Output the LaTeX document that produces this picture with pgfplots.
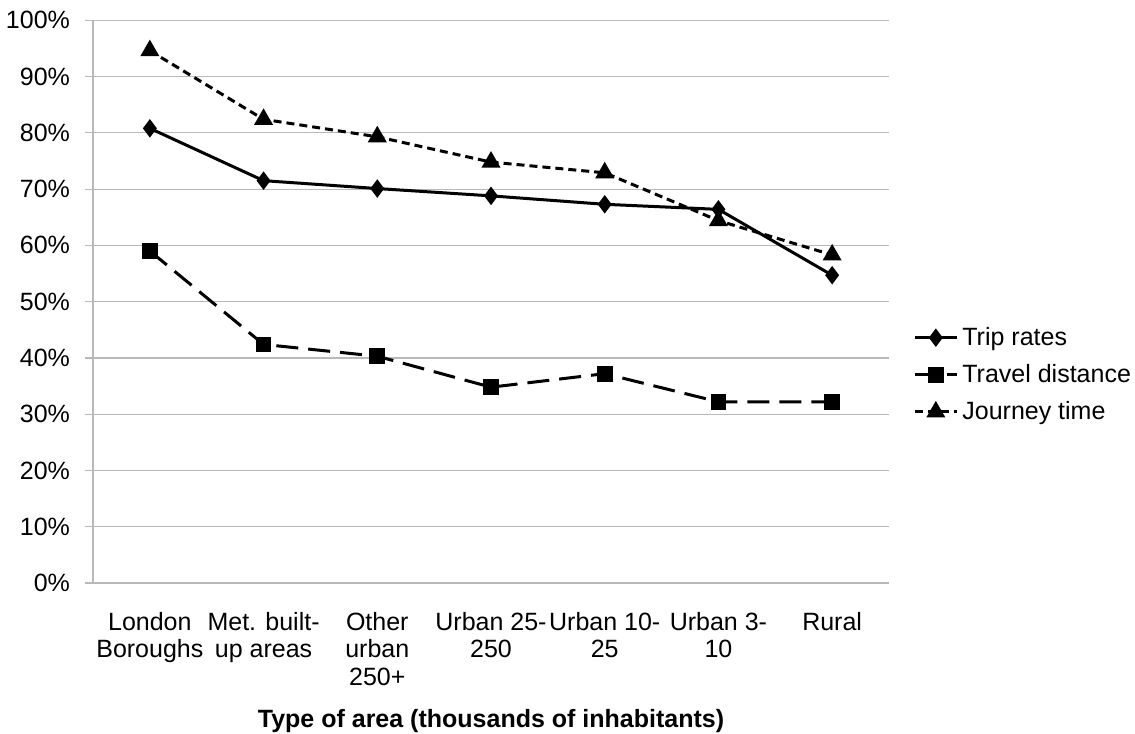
\documentclass[border=0pt]{standalone}
\usepackage{pgfplots}
\pgfplotsset{compat=1.18}
\usepackage{fontspec}
\setmainfont{Liberation Sans}
\usetikzlibrary{calc}

\definecolor{gridgray}{RGB}{185,185,185}

\begin{document}
\begin{tikzpicture}[font=\fontsize{12.5}{13.9}\selectfont]
\begin{axis}[
  scale only axis,
  width=398pt, height=281.35pt,
  xmin=-0.5, xmax=6.5,
  ymin=0, ymax=100,
  xtick={0,...,6},
  xticklabels={{London\\Boroughs},{Met. built-\\up areas},{Other\\urban\\250+},{Urban 25-\\250},{Urban 10-\\25},{Urban 3-\\10},{Rural}},
  xticklabel style={align=center, yshift=-7pt, font=\fontsize{12.5}{13.9}\selectfont},
  major x tick style={draw=none},
  ytick={0,10,...,100},
  yticklabel={\pgfmathprintnumber{\tick}\%},
  yticklabel style={xshift=-4pt, font=\fontsize{12.5}{13.9}\selectfont},
  /pgf/number format/assume math mode=true,
  tick align=outside,
  major tick length=4pt,
  major y tick style={gridgray, line width=0.6pt},
  ymajorgrids,
  grid style={gridgray, line width=0.6pt},
  axis line style={gridgray, line width=0.6pt},
  axis x line*=bottom,
  axis y line*=left,
  xlabel={\textbf{Type of area (thousands of inhabitants)}},
  xlabel style={yshift=-5pt, font=\fontsize{12.5}{13.9}\selectfont},
  legend style={draw=none, fill=none, at={(1.03,0.37)}, anchor=west,
    inner sep=0pt, row sep=4pt, font=\fontsize{12.5}{13.9}\selectfont,
    legend cell align=left},
  legend image code/.code={
    \draw[mark repeat=2, mark phase=2] plot coordinates {(0cm,0cm) (0.37cm,0cm) (0.74cm,0cm)};
  },
]
\coordinate (lo) at (rel axis cs:0,0);
\coordinate (hi) at (rel axis cs:1,1);

% Trip rates
\addplot[black, line width=1.5pt, mark=diamond*, mark size=3.4pt] coordinates {
  (0,80.8) (1,71.5) (2,70.1) (3,68.8) (4,67.3) (5,66.4) (6,54.7)
};
\addlegendentry{Trip rates}

% Travel distance
\addplot[black, line width=1.5pt, dash pattern=on 11pt off 5pt,
  mark=square*, mark size=3.2pt, mark options={solid}] coordinates {
  (0,59.0) (1,42.4) (2,40.3) (3,34.8) (4,37.2) (5,32.2) (6,32.2)
};
\addlegendentry{Travel distance}

% Journey time
\addplot[black, line width=1.5pt, dash pattern=on 4pt off 2.5pt,
  mark=triangle*, mark size=4pt, mark options={solid}] coordinates {
  (0,94.6) (1,82.4) (2,79.3) (3,74.8) (4,72.9) (5,64.4) (6,58.3)
};
\addlegendentry{Journey time}
\end{axis}
\pgfresetboundingbox
\path[use as bounding box] ($(lo)+(-46.5pt,-75pt)$) rectangle ($(hi)+(123pt,10.15pt)$);
\end{tikzpicture}
\end{document}
